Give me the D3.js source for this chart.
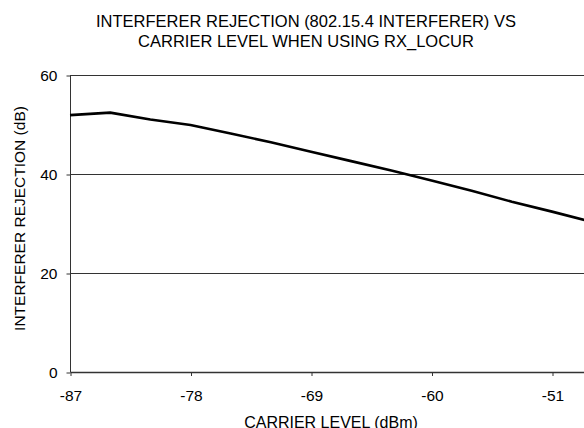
<!DOCTYPE html>
<html lang="en">
<head>
    <meta charset="UTF-8">
    <title>Interferer rejection</title>
    <script src="https://cdnjs.cloudflare.com/ajax/libs/d3/7.8.5/d3.min.js"></script>
    <style>
        body { margin: 0; background: #fff; }
        text { font-family: "Liberation Sans", Arial, sans-serif; fill: #000; }
    </style>
</head>
<body>
<svg id="chart" width="584" height="428"></svg>

<script>
    // carrier level (dBm) and interferer rejection (dB)
    var carrier = [-87, -84, -81, -78, -75, -72, -69, -66, -63, -60, -57, -54, -51, -48];
    var rejection = [51.9, 52.4, 51.0, 49.9, 48.2, 46.4, 44.5, 42.6, 40.7, 38.7, 36.6, 34.4, 32.4, 30.3];
    var xTicks = [-87, -78, -69, -60, -51];
    var yTicks = [0, 20, 40, 60];
    var titleLines = ['INTERFERER REJECTION (802.15.4 INTERFERER) VS', 'CARRIER LEVEL WHEN USING RX_LOCUR'];

    var plot = {left: 70, top: 75, bottom: 372};
    var step = 120.5; // px per 9 dBm, the plot runs past the right edge

    var svg = d3.select('#chart');

    var x = d3.scaleLinear()
            .domain([-87, -42])
            .range([plot.left, plot.left + step * 5]);
    var y = d3.scaleLinear()
            .domain([0, 60])
            .range([plot.bottom, plot.top]);

    var plain = function (d) { return String(d); };

    // gridlines
    svg.append('g')
            .selectAll('line')
            .data(yTicks.filter(function (d) { return d > 0; }))
            .enter()
            .append('line')
            .attr('x1', plot.left)
            .attr('x2', 584)
            .attr('y1', function (d) { return Math.round(y(d)) + 0.5; })
            .attr('y2', function (d) { return Math.round(y(d)) + 0.5; })
            .attr('stroke', '#333')
            .attr('stroke-width', 1);

    // y axis
    var yAxis = svg.append('g')
            .attr('transform', 'translate(' + (plot.left + 0.5) + ',0.5)')
            .call(d3.axisLeft(y).tickValues(yTicks).tickFormat(plain).tickSize(4).tickPadding(9));
    yAxis.select('.domain').attr('stroke', '#333').attr('d', 'M0,' + Math.round(plot.top) + 'V' + Math.round(plot.bottom));
    yAxis.selectAll('.tick line').attr('stroke', '#333');
    yAxis.selectAll('.tick text').attr('font-size', '15.5px').attr('font-family', '"Liberation Sans", Arial, sans-serif');

    // x axis
    var xAxis = svg.append('g')
            .attr('transform', 'translate(0.5,' + Math.round(plot.bottom) + ')')
            .call(d3.axisBottom(x).tickValues(xTicks).tickFormat(plain).tickSize(4).tickPadding(14).tickSizeOuter(0));
    xAxis.select('.domain').attr('stroke', '#333').attr('stroke-width', 1.5);
    xAxis.selectAll('.tick line').attr('stroke', '#333');
    xAxis.selectAll('.tick text').attr('font-size', '15.5px').attr('font-family', '"Liberation Sans", Arial, sans-serif');

    // data line
    var line = d3.line()
            .x(function (d, i) { return x(carrier[i]); })
            .y(function (d) { return y(d); });

    svg.append('path')
            .datum(rejection)
            .attr('d', line)
            .attr('fill', 'none')
            .attr('stroke', '#000')
            .attr('stroke-width', 2.6)
            .attr('stroke-linejoin', 'round');

    // title
    svg.append('text')
            .attr('text-anchor', 'middle')
            .attr('font-size', '16.5px')
            .selectAll('tspan')
            .data(titleLines)
            .enter()
            .append('tspan')
            .attr('x', 306)
            .attr('y', function (d, i) { return 27 + i * 20; })
            .text(function (d) { return d; });

    // axis titles
    svg.append('text')
            .attr('x', 331)
            .attr('y', 428)
            .attr('text-anchor', 'middle')
            .attr('font-size', '16px')
            .text('CARRIER LEVEL (dBm)');

    svg.append('text')
            .attr('transform', 'translate(25,' + ((plot.top + plot.bottom) / 2 - 5) + ') rotate(-90)')
            .attr('text-anchor', 'middle')
            .attr('font-size', '15.5px')
            .text('INTERFERER REJECTION (dB)');
</script>
</body>
</html>
